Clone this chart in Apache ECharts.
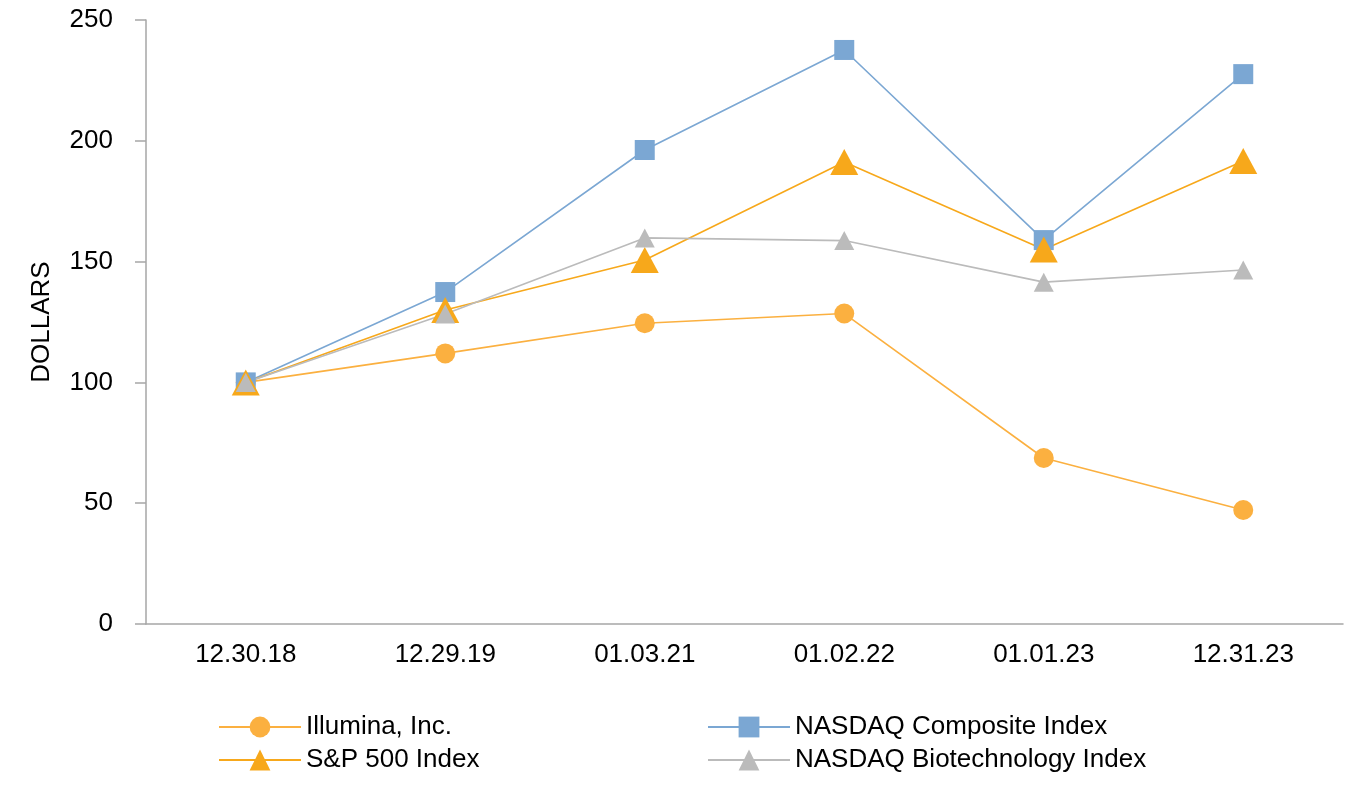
<!DOCTYPE html>
<html>
<head>
<meta charset="utf-8">
<script src="https://cdn.jsdelivr.net/npm/echarts@6/dist/echarts.min.js"></script>
<style>html,body{margin:0;padding:0;background:#fff}#c{width:1364px;height:800px}</style>
</head>
<body>
<div id="c"></div>
<script>
const categories = ['12.30.18', '12.29.19', '01.03.21', '01.02.22', '01.01.23', '12.31.23'];
const illumina = [100, 112, 124.5, 128.5, 68.7, 47.2];
const nasdaqComposite = [100, 137.4, 196.2, 237.6, 158.9, 227.6];
const sp500 = [100, 130, 150.7, 191.2, 155, 191.6];
const nasdaqBiotech = [100, 128.3, 159.8, 158.7, 141.5, 146.5];
const yTicks = { min: 0, max: 250, interval: 50 };

const font = '"Liberation Sans", Arial, sans-serif';
const chart = echarts.init(document.getElementById('c'));
const lineStyle = (c) => ({ color: c, width: 1.6 });
const legendText = { fontFamily: font, fontSize: 26, color: '#000' };
chart.setOption({
  animation: false,
  backgroundColor: '#fff',
  grid: { left: 146, right: 21, top: 20, bottom: 176, containLabel: false },
  legend: [
    { data: ['Illumina, Inc.', 'S&P 500 Index'], orient: 'vertical', left: 213, top: 709,
      itemWidth: 82, itemHeight: 26, itemGap: 7, textStyle: legendText },
    { data: ['NASDAQ Composite Index', 'NASDAQ Biotechnology Index'], orient: 'vertical', left: 702, top: 709,
      itemWidth: 82, itemHeight: 26, itemGap: 7, textStyle: legendText }
  ],
  xAxis: {
    type: 'category', data: categories, boundaryGap: true,
    axisLine: { lineStyle: { color: '#A6A6A6', width: 1.5 } },
    axisTick: { alignWithLabel: true, length: 10, lineStyle: { color: '#A6A6A6', width: 1.5 } },
    axisLabel: { fontFamily: font, fontSize: 26, color: '#000', margin: 18 }
  },
  yAxis: {
    type: 'value', min: yTicks.min, max: yTicks.max, interval: yTicks.interval,
    name: 'DOLLARS', nameLocation: 'middle', nameGap: 91, nameRotate: 90,
    nameTextStyle: { fontFamily: font, fontSize: 26, color: '#000' },
    axisLine: { show: true, lineStyle: { color: '#A6A6A6', width: 1.5 } },
    axisTick: { show: true, length: 11, lineStyle: { color: '#A6A6A6', width: 1.5 } },
    splitLine: { show: false },
    axisLabel: { fontFamily: font, fontSize: 26, color: '#000', margin: 33 }
  },
  series: [
    { name: 'Illumina, Inc.', type: 'line', data: illumina, symbol: 'circle', symbolSize: 20,
      itemStyle: { color: '#FBB040' }, lineStyle: lineStyle('#FBB040') },
    { name: 'NASDAQ Composite Index', type: 'line', data: nasdaqComposite, symbol: 'rect', symbolSize: 20,
      itemStyle: { color: '#7BA7D3' }, lineStyle: lineStyle('#7BA7D3') },
    { name: 'S&P 500 Index', type: 'line', data: sp500, symbol: 'triangle', symbolSize: [28, 26],
      itemStyle: { color: '#F7A81B' }, lineStyle: lineStyle('#F7A81B') },
    { name: 'NASDAQ Biotechnology Index', type: 'line', data: nasdaqBiotech, symbol: 'triangle', symbolSize: [20, 19],
      itemStyle: { color: '#BBBBBB' }, lineStyle: lineStyle('#BBBBBB') }
  ]
});
</script>
</body>
</html>
